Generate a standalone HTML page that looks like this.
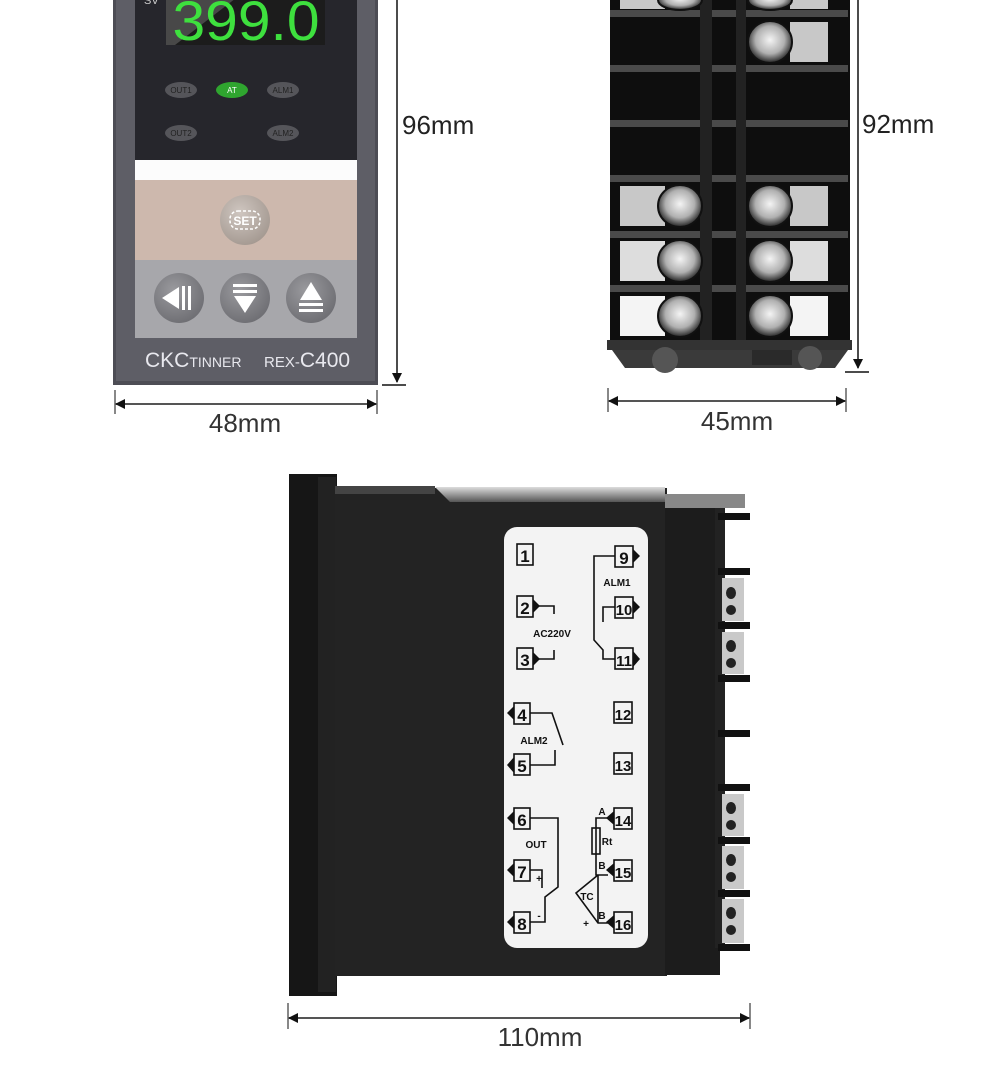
<!DOCTYPE html>
<html><head><meta charset="utf-8"><style>
html,body{margin:0;padding:0;background:#fff;width:990px;height:1083px;overflow:hidden}
svg{display:block}
text{font-family:"Liberation Sans",sans-serif}
</style></head><body>
<svg width="990" height="1083" viewBox="0 0 990 1083" xmlns="http://www.w3.org/2000/svg">
<defs>
<marker id="ar" markerWidth="10" markerHeight="10" refX="9" refY="5" orient="auto" markerUnits="userSpaceOnUse"><path d="M0,0 L10,5 L0,10 z" fill="#111"/></marker>
<marker id="al" markerWidth="10" markerHeight="10" refX="1" refY="5" orient="auto" markerUnits="userSpaceOnUse"><path d="M10,0 L0,5 L10,10 z" fill="#111"/></marker>
<radialGradient id="btn" cx="40%" cy="35%" r="70%"><stop offset="0" stop-color="#9a9a9e"/><stop offset="1" stop-color="#6d6d72"/></radialGradient>
<radialGradient id="setb" cx="40%" cy="35%" r="70%"><stop offset="0" stop-color="#cfc6c0"/><stop offset="1" stop-color="#a39890"/></radialGradient>
<radialGradient id="scr" cx="50%" cy="45%" r="55%"><stop offset="0" stop-color="#f4f4f4"/><stop offset=".6" stop-color="#b0b0b0"/><stop offset="1" stop-color="#222"/></radialGradient>
<linearGradient id="strip" x1="0" y1="0" x2="0" y2="1"><stop offset="0" stop-color="#ddd"/><stop offset="1" stop-color="#555"/></linearGradient>
</defs>

<!-- FRONT PANEL -->
<rect x="113" y="-5" width="265" height="390" fill="#4d4d55"/>
<rect x="116" y="-5" width="259" height="386" fill="#5e5e66"/>
<rect x="135" y="-5" width="222" height="165" fill="#26262c"/>
<text x="144" y="4" font-size="11" fill="#ccc">SV</text>
<rect x="166" y="-5" width="159" height="50" fill="#1c1c1c"/>
<polygon points="166,-5 240,-5 175,45 166,45" fill="#666" opacity=".6"/>
<text x="0" y="0" font-size="56" fill="#3ee03e" text-anchor="middle" transform="translate(246,40) scale(1.05,1)">399.0</text>
<g font-size="8" text-anchor="middle">
<ellipse cx="181" cy="90" rx="16" ry="8" fill="#55555a"/><text x="181" y="93" fill="#222">OUT1</text>
<ellipse cx="232" cy="90" rx="16" ry="8" fill="#2fa52f"/><text x="232" y="93" fill="#fff">AT</text>
<ellipse cx="283" cy="90" rx="16" ry="8" fill="#55555a"/><text x="283" y="93" fill="#222">ALM1</text>
<ellipse cx="181" cy="133" rx="16" ry="8" fill="#55555a"/><text x="181" y="136" fill="#222">OUT2</text>
<ellipse cx="283" cy="133" rx="16" ry="8" fill="#55555a"/><text x="283" y="136" fill="#222">ALM2</text>
</g>
<rect x="135" y="160" width="222" height="20" fill="#fcfcfc"/>
<rect x="135" y="180" width="222" height="80" fill="#cdb8ad"/>
<circle cx="245" cy="220" r="25" fill="url(#setb)"/>
<rect x="230" y="211" width="30" height="18" rx="8" fill="none" stroke="#fff" stroke-width="1.5" stroke-dasharray="3,2"/>
<text x="245" y="225" font-size="12" font-weight="bold" fill="#fff" text-anchor="middle">SET</text>
<rect x="135" y="260" width="222" height="78" fill="#a7a7ab"/>
<circle cx="179" cy="298" r="25" fill="url(#btn)"/>
<circle cx="245" cy="298" r="25" fill="url(#btn)"/>
<circle cx="311" cy="298" r="25" fill="url(#btn)"/>
<polygon points="162,298 179,287 179,309" fill="#fff"/><rect x="182" y="286" width="3" height="24" fill="#fff"/><rect x="188" y="286" width="3" height="24" fill="#fff"/>
<rect x="233" y="284" width="24" height="3" fill="#fff"/><rect x="233" y="290" width="24" height="3" fill="#fff"/><polygon points="234,296 256,296 245,313" fill="#fff"/>
<polygon points="311,282 322,300 300,300" fill="#fff"/><rect x="299" y="303" width="24" height="3" fill="#fff"/><rect x="299" y="309" width="24" height="3" fill="#fff"/>
<text x="145" y="367" font-size="21" fill="#e8e8ee">CKC<tspan font-size="14">TINNER</tspan></text>
<text x="264" y="367" font-size="15" fill="#e8e8ee">REX-<tspan font-size="21">C400</tspan></text>

<!-- dims front -->
<line x1="397" y1="0" x2="397" y2="382" stroke="#111" stroke-width="1.5" marker-end="url(#ar)"/>
<line x1="382" y1="385" x2="406" y2="385" stroke="#111" stroke-width="1.5"/>
<text x="402" y="134" font-size="26" fill="#222">96mm</text>
<line x1="115" y1="390" x2="115" y2="414" stroke="#111"/>
<line x1="377" y1="390" x2="377" y2="414" stroke="#111"/>
<line x1="116" y1="404" x2="376" y2="404" stroke="#555" stroke-width="2" marker-start="url(#al)" marker-end="url(#ar)"/>
<text x="245" y="432" font-size="26" fill="#333" text-anchor="middle">48mm</text>

<!-- SIDE TERMINAL VIEW -->
<rect x="610" y="-5" width="240" height="350" fill="#0e0e0e"/>
<g fill="#4a4a4a">
<rect x="610" y="10" width="238" height="7"/><rect x="610" y="65" width="238" height="7"/><rect x="610" y="120" width="238" height="7"/><rect x="610" y="175" width="238" height="7"/><rect x="610" y="231" width="238" height="7"/><rect x="610" y="285" width="238" height="7"/>
<rect x="700" y="-5" width="12" height="345" fill="#222"/><rect x="736" y="-5" width="10" height="345" fill="#222"/>
</g>
<g fill="#c8c8c8">
<rect x="620" y="-5" width="45" height="14"/><rect x="790" y="-5" width="38" height="14"/>
<rect x="790" y="22" width="38" height="40"/>
<rect x="620" y="186" width="45" height="40"/><rect x="790" y="186" width="38" height="40"/>
<rect x="620" y="241" width="45" height="40" fill="#ddd"/><rect x="790" y="241" width="38" height="40" fill="#ddd"/>
<rect x="620" y="296" width="45" height="40" fill="#f4f4f4"/><rect x="790" y="296" width="38" height="40" fill="#f4f4f4"/>
</g>
<g fill="url(#scr)" stroke="#111" stroke-width="2">
<ellipse cx="680" cy="0" rx="22" ry="10"/><ellipse cx="770" cy="0" rx="22" ry="10"/>
<ellipse cx="770" cy="42" rx="22" ry="21"/>
<ellipse cx="680" cy="206" rx="22" ry="21"/><ellipse cx="770" cy="206" rx="22" ry="21"/>
<ellipse cx="680" cy="261" rx="22" ry="21"/><ellipse cx="770" cy="261" rx="22" ry="21"/>
<ellipse cx="680" cy="316" rx="22" ry="21"/><ellipse cx="770" cy="316" rx="22" ry="21"/>
</g>
<rect x="607" y="340" width="245" height="10" fill="#333"/>
<polygon points="612,350 848,350 835,368 625,368" fill="#3a3a3a"/>
<circle cx="665" cy="360" r="13" fill="#555"/><circle cx="810" cy="358" r="12" fill="#555"/>
<rect x="752" y="350" width="40" height="15" fill="#2a2a2a"/>

<line x1="858" y1="0" x2="858" y2="368" stroke="#111" stroke-width="1.5" marker-end="url(#ar)"/>
<line x1="845" y1="372" x2="869" y2="372" stroke="#111" stroke-width="1.5"/>
<text x="862" y="133" font-size="26" fill="#222">92mm</text>
<line x1="608" y1="388" x2="608" y2="412" stroke="#111"/>
<line x1="846" y1="388" x2="846" y2="412" stroke="#111"/>
<line x1="609" y1="401" x2="845" y2="401" stroke="#555" stroke-width="2" marker-start="url(#al)" marker-end="url(#ar)"/>
<text x="737" y="430" font-size="26" fill="#333" text-anchor="middle">45mm</text>

<!-- SIDE VIEW -->
<rect x="289" y="474" width="48" height="522" fill="#161616"/>
<rect x="318" y="477" width="18" height="515" fill="#222"/>
<rect x="335" y="488" width="332" height="488" fill="#232323"/>
<rect x="335" y="486" width="100" height="8" fill="#444"/>
<polygon points="435,487 665,487 665,502 450,502" fill="url(#strip)"/>
<rect x="665" y="495" width="55" height="480" fill="#1c1c1c"/>
<rect x="665" y="494" width="80" height="14" fill="#888"/>
<rect x="715" y="508" width="10" height="440" fill="#222"/>
<g fill="#111">
<rect x="718" y="513" width="32" height="7"/><rect x="718" y="568" width="32" height="7"/><rect x="718" y="622" width="32" height="7"/><rect x="718" y="675" width="32" height="7"/><rect x="718" y="730" width="32" height="7"/><rect x="718" y="784" width="32" height="7"/><rect x="718" y="837" width="32" height="7"/><rect x="718" y="890" width="32" height="7"/><rect x="718" y="944" width="32" height="7"/>
</g>
<g fill="#c9c9c9">
<rect x="722" y="578" width="22" height="43"/><rect x="722" y="632" width="22" height="42"/>
<rect x="722" y="794" width="22" height="42"/><rect x="722" y="846" width="22" height="43"/><rect x="722" y="899" width="22" height="44"/>
</g>
<g fill="#222">
<ellipse cx="731" cy="593" rx="5" ry="6"/><ellipse cx="731" cy="610" rx="5" ry="5"/><ellipse cx="731" cy="646" rx="5" ry="6"/><ellipse cx="731" cy="663" rx="5" ry="5"/>
<ellipse cx="731" cy="808" rx="5" ry="6"/><ellipse cx="731" cy="825" rx="5" ry="5"/><ellipse cx="731" cy="860" rx="5" ry="6"/><ellipse cx="731" cy="877" rx="5" ry="5"/><ellipse cx="731" cy="913" rx="5" ry="6"/><ellipse cx="731" cy="930" rx="5" ry="5"/>
</g>

<!-- label -->
<rect x="504" y="527" width="144" height="421" rx="13" fill="#f3f3f3"/>
<g font-size="17" fill="#111" text-anchor="middle" stroke="none" font-weight="bold">
<g fill="none" stroke="#111" stroke-width="1.6">
<rect x="517" y="544" width="16" height="21"/><rect x="517" y="596" width="16" height="21"/><rect x="517" y="648" width="16" height="21"/>
<rect x="514" y="703" width="16" height="21"/><rect x="514" y="754" width="16" height="21"/><rect x="514" y="808" width="16" height="21"/><rect x="514" y="860" width="16" height="21"/><rect x="514" y="912" width="16" height="21"/>
<rect x="615" y="546" width="18" height="21"/><rect x="615" y="597" width="18" height="21"/><rect x="615" y="648" width="18" height="21"/><rect x="614" y="702" width="18" height="21"/><rect x="614" y="753" width="18" height="21"/><rect x="614" y="808" width="18" height="21"/><rect x="614" y="860" width="18" height="21"/><rect x="614" y="912" width="18" height="21"/>
<path d="M539,606 H554 V614"/><path d="M539,659 H554 V650"/>
<path d="M530,713 H552 L563,745"/><path d="M530,765 H555 V750"/>
<path d="M530,818 H558 V887 L545,897 V922 H530"/>
<path d="M530,870 H542 V888"/>
<path d="M615,556 H594 V640 L603,650 V659 H615"/>
<path d="M615,607 H603 V622"/>
<path d="M608,818 H596 V875 H608"/><rect x="592" y="828" width="8" height="26"/>
<path d="M598,875 L576,893 L598,923 H608"/><path d="M598,875 V923"/>
</g>
<g fill="#111">
<polygon points="533,599 540,606 533,613"/><polygon points="533,652 540,659 533,666"/>
<polygon points="514,706 507,713 514,720"/><polygon points="514,757 507,765 514,773"/><polygon points="514,811 507,818 514,825"/><polygon points="514,863 507,870 514,877"/><polygon points="514,915 507,922 514,929"/>
<polygon points="633,549 640,556 633,563"/><polygon points="633,600 640,607 633,614"/><polygon points="633,651 640,659 633,667"/>
<polygon points="614,811 606,818 614,825"/><polygon points="614,863 606,870 614,877"/><polygon points="614,915 606,922 614,929"/>
</g>
<text x="525" y="562">1</text><text x="525" y="614">2</text><text x="525" y="666">3</text>
<text x="522" y="721">4</text><text x="522" y="772">5</text><text x="522" y="826">6</text><text x="522" y="878">7</text><text x="522" y="930">8</text>
<text x="624" y="564">9</text><text x="624" y="615" font-size="15">10</text><text x="624" y="666" font-size="15">11</text><text x="623" y="720" font-size="15">12</text><text x="623" y="771" font-size="15">13</text><text x="623" y="826" font-size="15">14</text><text x="623" y="878" font-size="15">15</text><text x="623" y="930" font-size="15">16</text>
<g font-size="10" font-weight="bold" font-family="Liberation Mono, monospace">
<text x="552" y="637">AC220V</text>
<text x="617" y="586">ALM1</text>
<text x="534" y="744">ALM2</text>
<text x="536" y="848">OUT</text>
<text x="539" y="882">+</text><text x="539" y="919">-</text>
<text x="602" y="815">A</text><text x="607" y="845">Rt</text><text x="602" y="869">B</text><text x="602" y="919">B</text>
<text x="587" y="900">TC</text><text x="586" y="927">+</text>
</g>
</g>

<!-- dims bottom -->
<line x1="288" y1="1003" x2="288" y2="1029" stroke="#111"/>
<line x1="750" y1="1003" x2="750" y2="1029" stroke="#111"/>
<line x1="289" y1="1018" x2="749" y2="1018" stroke="#555" stroke-width="2" marker-start="url(#al)" marker-end="url(#ar)"/>
<text x="540" y="1046" font-size="26" fill="#333" text-anchor="middle">110mm</text>
</svg>
</body></html>
